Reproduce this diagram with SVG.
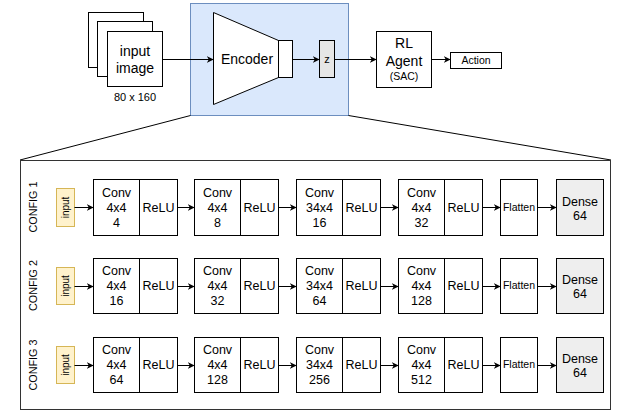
<svg xmlns="http://www.w3.org/2000/svg" width="619" height="413" viewBox="0 0 619 413">
<style>
text{font-family:"Liberation Sans",Arial,sans-serif;fill:#000;text-anchor:middle}
.b{fill:#fff;stroke:#000;stroke-width:1}
.t14{font-size:14px}
.t12{font-size:12.5px}
.t10{font-size:10.5px}
.t9{font-size:10.5px}
.cfg{font-size:10.8px}
.in{font-size:10px}
.e{fill:none;stroke:#000;stroke-width:1}
.inp{fill:#fff2cc;stroke:#d6b656;stroke-width:1}
.dense{fill:#eeeeee;stroke:#000;stroke-width:1}
</style>
<defs>
<marker id="ah" viewBox="0 0 10 10" refX="9" refY="5" markerWidth="7" markerHeight="7" markerUnits="userSpaceOnUse" orient="auto">
<path d="M0,0 L10,5 L0,10 L3,5 Z" fill="#000"/>
</marker>
</defs>

<g id="encoder-region">
<rect x="190.5" y="3.5" width="158" height="112" fill="#dae8fc" stroke="#6c8ebf"/>
</g>
<g id="zoom-lines">
<line x1="190.5" y1="115.5" x2="20" y2="160" class="e"/>
<line x1="348.5" y1="115.5" x2="611" y2="160" class="e"/>
</g>
<g id="detail-box">
<rect x="20.5" y="160.5" width="590" height="249" fill="#fff" stroke="#333"/>
</g>

<g id="input-image">
<rect x="88.5" y="12.5" width="55" height="55" class="b"/>
<rect x="97.5" y="21.5" width="55" height="55" class="b"/>
<rect x="107.5" y="31.5" width="55" height="55" class="b"/>
<text x="135" y="56" class="t14">input</text>
<text x="135" y="73" class="t14">image</text>
<text x="135" y="101" font-size="11">80 x 160</text>
</g>
<g id="encoder">
<path d="M213.5,12.5 L278.5,40.5 L278.5,77.5 L213.5,104.5 Z" class="b"/>
<rect x="278.5" y="40.5" width="14" height="37" class="b"/>
<text x="247" y="64" class="t14">Encoder</text>
</g>
<g id="z">
<rect x="319.5" y="40.5" width="15" height="37" fill="#e6e6e6" stroke="#000"/>
<text x="327" y="63" font-size="11">z</text>
</g>
<g id="rl-agent">
<rect x="376.5" y="31.5" width="55" height="56" class="b"/>
<text x="404" y="48" class="t14">RL</text>
<text x="404" y="66" class="t14">Agent</text>
<text x="404" y="80" class="t10">(SAC)</text>
</g>
<g id="action">
<rect x="450.5" y="52.5" width="51" height="16" class="b"/>
<text x="476" y="64" class="t10">Action</text>
</g>

<g id="connectors-top">
<line x1="162.5" y1="59.5" x2="213" y2="59.5" class="e" marker-end="url(#ah)"/>
<line x1="292.5" y1="59.5" x2="319" y2="59.5" class="e" marker-end="url(#ah)"/>
<line x1="334.5" y1="59.5" x2="376" y2="59.5" class="e" marker-end="url(#ah)"/>
<line x1="431.5" y1="59.5" x2="450" y2="59.5" class="e" marker-end="url(#ah)"/>
</g>

<!-- CONFIG 1 -->
<g id="config1">
<text transform="translate(37,207) rotate(-90)" class="cfg">CONFIG 1</text>
<rect x="56.5" y="188.5" width="18" height="38" class="inp"/>
<text transform="translate(69,207.5) rotate(-90)" class="in">input</text>
<rect x="93.5" y="179.5" width="46" height="56" class="b"/>
<rect x="139.5" y="179.5" width="38" height="56" class="b"/>
<text x="116.5" y="197" class="t12">Conv</text><text x="116.5" y="212" class="t12">4x4</text><text x="116.5" y="227" class="t12">4</text>
<text x="158.5" y="212" class="t12">ReLU</text>
<rect x="194.5" y="179.5" width="46" height="56" class="b"/>
<rect x="240.5" y="179.5" width="38" height="56" class="b"/>
<text x="217.5" y="197" class="t12">Conv</text><text x="217.5" y="212" class="t12">4x4</text><text x="217.5" y="227" class="t12">8</text>
<text x="259.5" y="212" class="t12">ReLU</text>
<rect x="296.5" y="179.5" width="46" height="56" class="b"/>
<rect x="342.5" y="179.5" width="38" height="56" class="b"/>
<text x="319.5" y="197" class="t12">Conv</text><text x="319.5" y="212" class="t12">34x4</text><text x="319.5" y="227" class="t12">16</text>
<text x="361.5" y="212" class="t12">ReLU</text>
<rect x="398.5" y="179.5" width="46" height="56" class="b"/>
<rect x="444.5" y="179.5" width="38" height="56" class="b"/>
<text x="421.5" y="197" class="t12">Conv</text><text x="421.5" y="212" class="t12">4x4</text><text x="421.5" y="227" class="t12">32</text>
<text x="463.5" y="212" class="t12">ReLU</text>
<rect x="500.5" y="179.5" width="37" height="56" class="b"/>
<text x="519" y="211" class="t9">Flatten</text>
<rect x="556.5" y="179.5" width="47" height="56" class="dense"/>
<text x="580" y="206" class="t12">Dense</text><text x="580" y="220" class="t12">64</text>
</g>

<!-- CONFIG 2 -->
<g id="config2">
<text transform="translate(37,285.5) rotate(-90)" class="cfg">CONFIG 2</text>
<rect x="56.5" y="267.5" width="18" height="37" class="inp"/>
<text transform="translate(69,286) rotate(-90)" class="in">input</text>
<rect x="93.5" y="258.5" width="46" height="55" class="b"/>
<rect x="139.5" y="258.5" width="38" height="55" class="b"/>
<text x="116.5" y="275" class="t12">Conv</text><text x="116.5" y="290" class="t12">4x4</text><text x="116.5" y="305" class="t12">16</text>
<text x="158.5" y="290" class="t12">ReLU</text>
<rect x="194.5" y="258.5" width="46" height="55" class="b"/>
<rect x="240.5" y="258.5" width="38" height="55" class="b"/>
<text x="217.5" y="275" class="t12">Conv</text><text x="217.5" y="290" class="t12">4x4</text><text x="217.5" y="305" class="t12">32</text>
<text x="259.5" y="290" class="t12">ReLU</text>
<rect x="296.5" y="258.5" width="46" height="55" class="b"/>
<rect x="342.5" y="258.5" width="38" height="55" class="b"/>
<text x="319.5" y="275" class="t12">Conv</text><text x="319.5" y="290" class="t12">34x4</text><text x="319.5" y="305" class="t12">64</text>
<text x="361.5" y="290" class="t12">ReLU</text>
<rect x="398.5" y="258.5" width="46" height="55" class="b"/>
<rect x="444.5" y="258.5" width="38" height="55" class="b"/>
<text x="421.5" y="275" class="t12">Conv</text><text x="421.5" y="290" class="t12">4x4</text><text x="421.5" y="305" class="t12">128</text>
<text x="463.5" y="290" class="t12">ReLU</text>
<rect x="500.5" y="258.5" width="37" height="55" class="b"/>
<text x="519" y="289" class="t9">Flatten</text>
<rect x="556.5" y="258.5" width="47" height="55" class="dense"/>
<text x="580" y="284" class="t12">Dense</text><text x="580" y="298" class="t12">64</text>
</g>

<!-- CONFIG 3 -->
<g id="config3">
<text transform="translate(37,365) rotate(-90)" class="cfg">CONFIG 3</text>
<rect x="56.5" y="346.5" width="18" height="37" class="inp"/>
<text transform="translate(69,365) rotate(-90)" class="in">input</text>
<rect x="93.5" y="337.5" width="46" height="55" class="b"/>
<rect x="139.5" y="337.5" width="38" height="55" class="b"/>
<text x="116.5" y="354" class="t12">Conv</text><text x="116.5" y="369" class="t12">4x4</text><text x="116.5" y="384" class="t12">64</text>
<text x="158.5" y="369" class="t12">ReLU</text>
<rect x="194.5" y="337.5" width="46" height="55" class="b"/>
<rect x="240.5" y="337.5" width="38" height="55" class="b"/>
<text x="217.5" y="354" class="t12">Conv</text><text x="217.5" y="369" class="t12">4x4</text><text x="217.5" y="384" class="t12">128</text>
<text x="259.5" y="369" class="t12">ReLU</text>
<rect x="296.5" y="337.5" width="46" height="55" class="b"/>
<rect x="342.5" y="337.5" width="38" height="55" class="b"/>
<text x="319.5" y="354" class="t12">Conv</text><text x="319.5" y="369" class="t12">34x4</text><text x="319.5" y="384" class="t12">256</text>
<text x="361.5" y="369" class="t12">ReLU</text>
<rect x="398.5" y="337.5" width="46" height="55" class="b"/>
<rect x="444.5" y="337.5" width="38" height="55" class="b"/>
<text x="421.5" y="354" class="t12">Conv</text><text x="421.5" y="369" class="t12">4x4</text><text x="421.5" y="384" class="t12">512</text>
<text x="463.5" y="369" class="t12">ReLU</text>
<rect x="500.5" y="337.5" width="37" height="55" class="b"/>
<text x="519" y="368" class="t9">Flatten</text>
<rect x="556.5" y="337.5" width="47" height="55" class="dense"/>
<text x="580" y="363" class="t12">Dense</text><text x="580" y="377" class="t12">64</text>
</g>

<g id="connectors-rows">
<line x1="74.5" y1="207.5" x2="93" y2="207.5" class="e" marker-end="url(#ah)"/>
<line x1="177.5" y1="207.5" x2="194" y2="207.5" class="e" marker-end="url(#ah)"/>
<line x1="278.5" y1="207.5" x2="296" y2="207.5" class="e" marker-end="url(#ah)"/>
<line x1="380.5" y1="207.5" x2="398" y2="207.5" class="e" marker-end="url(#ah)"/>
<line x1="482.5" y1="207.5" x2="500" y2="207.5" class="e" marker-end="url(#ah)"/>
<line x1="537.5" y1="207.5" x2="556" y2="207.5" class="e" marker-end="url(#ah)"/>

<line x1="74.5" y1="286.5" x2="93" y2="286.5" class="e" marker-end="url(#ah)"/>
<line x1="177.5" y1="286.5" x2="194" y2="286.5" class="e" marker-end="url(#ah)"/>
<line x1="278.5" y1="286.5" x2="296" y2="286.5" class="e" marker-end="url(#ah)"/>
<line x1="380.5" y1="286.5" x2="398" y2="286.5" class="e" marker-end="url(#ah)"/>
<line x1="482.5" y1="286.5" x2="500" y2="286.5" class="e" marker-end="url(#ah)"/>
<line x1="537.5" y1="286.5" x2="556" y2="286.5" class="e" marker-end="url(#ah)"/>

<line x1="74.5" y1="365.5" x2="93" y2="365.5" class="e" marker-end="url(#ah)"/>
<line x1="177.5" y1="365.5" x2="194" y2="365.5" class="e" marker-end="url(#ah)"/>
<line x1="278.5" y1="365.5" x2="296" y2="365.5" class="e" marker-end="url(#ah)"/>
<line x1="380.5" y1="365.5" x2="398" y2="365.5" class="e" marker-end="url(#ah)"/>
<line x1="482.5" y1="365.5" x2="500" y2="365.5" class="e" marker-end="url(#ah)"/>
<line x1="537.5" y1="365.5" x2="556" y2="365.5" class="e" marker-end="url(#ah)"/>
</g>
</svg>
